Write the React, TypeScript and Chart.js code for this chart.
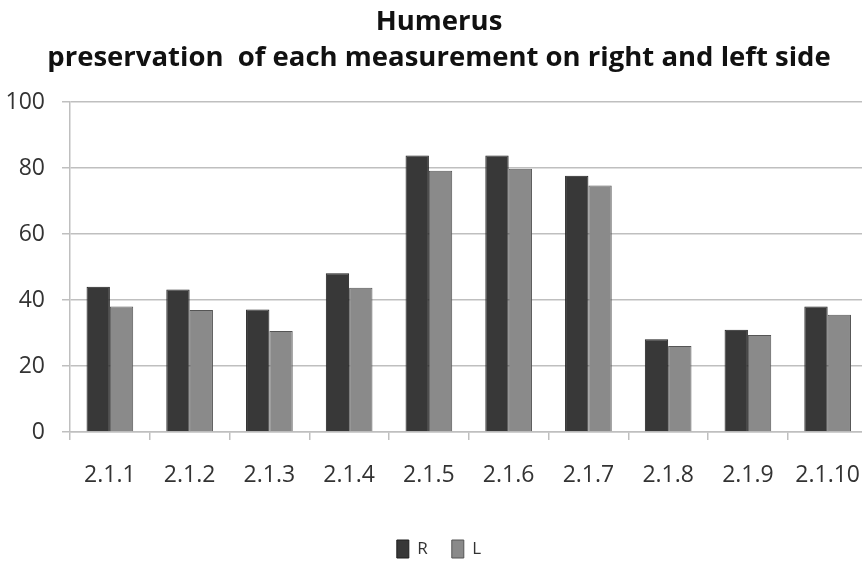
import React, { useEffect, useRef } from "react";
import { Chart, registerables } from "chart.js";

Chart.register(...registerables);

const categories = ["2.1.1", "2.1.2", "2.1.3", "2.1.4", "2.1.5", "2.1.6", "2.1.7", "2.1.8", "2.1.9", "2.1.10"];
const rightValues = [44.0, 43.2, 37.1, 48.1, 83.8, 83.8, 77.7, 28.1, 31.0, 38.0];
const leftValues = [38.0, 37.0, 30.6, 43.7, 79.2, 79.8, 74.7, 26.1, 29.4, 35.5];
const yTicks = [0, 20, 40, 60, 80, 100];
const titleLines = ["Humerus", "preservation  of each measurement on right and left side"];

export default function App() {
  const ref = useRef<HTMLCanvasElement | null>(null);
  useEffect(() => {
    if (!ref.current) return;
    const chart = new Chart(ref.current, {
      type: "bar",
      data: {
        labels: categories,
        datasets: [
          {
            label: "R",
            data: rightValues,
            backgroundColor: "#383838",
            borderColor: "#1e1e1e",
            borderWidth: 1,
            categoryPercentage: 0.585,
            barPercentage: 1.0,
          },
          {
            label: "L",
            data: leftValues,
            backgroundColor: "#8a8a8a",
            borderColor: "#555555",
            borderWidth: 1,
            categoryPercentage: 0.585,
            barPercentage: 1.0,
          },
        ],
      },
      options: {
        animation: false,
        responsive: true,
        maintainAspectRatio: false,
        layout: { padding: { left: 0, right: 0, top: 2, bottom: 0 } },
        plugins: {
          title: {
            display: true,
            text: titleLines,
            color: "#111",
            font: { family: "'Open Sans', sans-serif", size: 27.5, weight: "bold", lineHeight: 1.31 },
            padding: { top: 2, bottom: 26 },
          },
          legend: {
            position: "bottom",
            maxHeight: 45,
            labels: {
              color: "#333",
              font: { family: "'Open Sans', sans-serif", size: 17 },
              boxWidth: 12,
              boxHeight: 18,
              padding: 24,
            },
          },
          tooltip: { enabled: false },
        },
        scales: {
          y: {
            min: yTicks[0],
            max: yTicks[yTicks.length - 1],
            afterFit: (scale: any) => {
              scale.width = 74;
            },
            afterBuildTicks: (scale: any) => {
              scale.ticks = yTicks.map((v) => ({ value: v }));
            },
            ticks: {
              color: "#333",
              font: { family: "'Open Sans', sans-serif", size: 23 },
              padding: 17,
            },
            grid: { color: "#bfbfbf", lineWidth: 1.5, tickLength: 8 },
            border: { color: "#bfbfbf", width: 1.5 },
          },
          x: {
            afterFit: (scale: any) => {
              scale.height = 84;
            },
            ticks: {
              color: "#333",
              font: { family: "'Open Sans', sans-serif", size: 23 },
              padding: 22,
              maxRotation: 0,
              autoSkip: false,
            },
            grid: {
              offset: true,
              drawOnChartArea: false,
              drawTicks: true,
              tickLength: 8,
              color: "#bfbfbf",
              lineWidth: 1.5,
            },
            border: { color: "#bfbfbf", width: 1.5 },
          },
        },
      },
    });
    return () => chart.destroy();
  }, []);
  return (
    <div style={{ position: "absolute", left: 0, top: 0, width: 862, height: 561, overflow: "hidden", background: "#fff" }}>
      <div style={{ position: "absolute", left: -4, top: 0, width: 886, height: 561 }}>
        <canvas ref={ref} />
      </div>
    </div>
  );
}
